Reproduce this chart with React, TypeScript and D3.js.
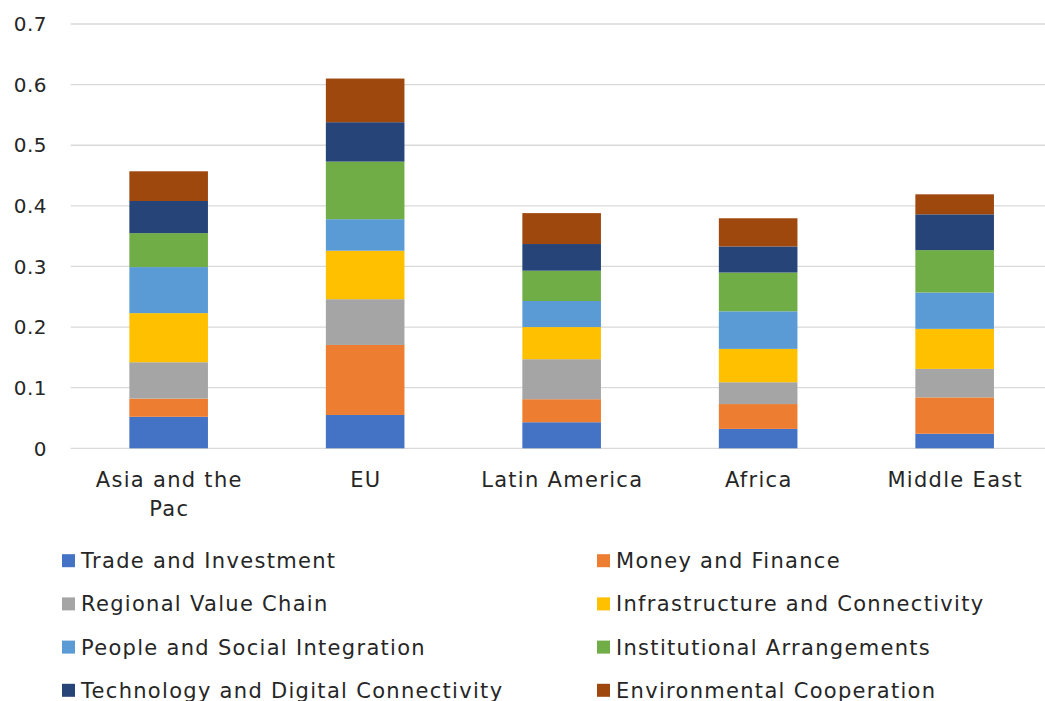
import React from "react";
import * as d3 from "d3";

// regions along the x axis
const categories = ["Asia and the Pac", "EU", "Latin America", "Africa", "Middle East"];

// series values, bottom to top of each stack
const seriesNames = [
  "Trade and Investment",
  "Money and Finance",
  "Regional Value Chain",
  "Infrastructure and Connectivity",
  "People and Social Integration",
  "Institutional Arrangements",
  "Technology and Digital Connectivity",
  "Environmental Cooperation",
];
const tradeInvestment = [0.052, 0.055, 0.043, 0.032, 0.024];
const moneyFinance = [0.03, 0.1155, 0.038, 0.041, 0.06];
const regionalValueChain = [0.06, 0.0755, 0.066, 0.036, 0.047];
const infrastructure = [0.081, 0.08, 0.053, 0.055, 0.066];
const peopleSocial = [0.076, 0.052, 0.043, 0.062, 0.06];
const institutional = [0.056, 0.095, 0.05, 0.064, 0.07];
const technologyDigital = [0.053, 0.065, 0.044, 0.043, 0.059];
const environmental = [0.049, 0.072, 0.051, 0.0465, 0.033];

const yTicks = [0, 0.1, 0.2, 0.3, 0.4, 0.5, 0.6, 0.7];

const colors = ["#4472C4", "#ED7D31", "#A5A5A5", "#FFC000", "#5B9BD5", "#70AD47", "#264478", "#9E480E"];

const width = 1045;
const height = 701;
const font = "'DejaVu Sans', sans-serif";
const textColor = "#262626";

// split long category names into two lines like the original
function wrap(label: string): string[] {
  if (label.length <= 14) return [label];
  const cut = label.lastIndexOf(" ", 13);
  return [label.slice(0, cut), label.slice(cut + 1)];
}

export default function App() {
  const values = [
    tradeInvestment,
    moneyFinance,
    regionalValueChain,
    infrastructure,
    peopleSocial,
    institutional,
    technologyDigital,
    environmental,
  ];

  const rows = categories.map((c, i) => {
    const r: Record<string, number | string> = { category: c };
    seriesNames.forEach((s, j) => (r[s] = values[j][i]));
    return r;
  });

  const stacked = d3.stack<any>().keys(seriesNames)(rows);

  const x = d3
    .scaleBand()
    .domain(categories)
    .range([70.4, 1052.9])
    .paddingInner(0.6)
    .paddingOuter(0.3);

  const y = d3.scaleLinear().domain([0, 0.7]).range([448.3, 24]);

  const legendCol = [62, 597];
  const legendRow0 = 560.7;
  const legendStep = 43.2;

  return (
    <svg
      width={width}
      height={height}
      style={{ position: "absolute", left: 0, top: 0, background: "#fff" }}
      fontFamily={font}
    >
      {/* gridlines */}
      {yTicks.map((t) => (
        <line key={t} x1={70.7} x2={width} y1={y(t)} y2={y(t)} stroke="#D9D9D9" strokeWidth={1.3} />
      ))}
      {/* y tick labels */}
      {yTicks.map((t) => (
        <text
          key={t}
          x={47}
          y={y(t)}
          dy="0.36em"
          textAnchor="end"
          fontSize={20}
          letterSpacing={0.5}
          fill={textColor}
        >
          {d3.format("")(+t.toFixed(1))}
        </text>
      ))}
      {/* stacked bars */}
      {stacked.map((layer, j) => (
        <g key={layer.key} fill={colors[j]}>
          {layer.map((d, i) => (
            <rect
              key={i}
              x={x(categories[i])}
              width={x.bandwidth()}
              y={y(d[1])}
              height={y(d[0]) - y(d[1])}
            />
          ))}
        </g>
      ))}
      {/* category labels */}
      {categories.map((c) => {
        const cx = (x(c) ?? 0) + x.bandwidth() / 2 + 0.6;
        return (
          <text
            key={c}
            x={cx}
            y={487}
            textAnchor="middle"
            fontSize={21}
            letterSpacing={1.3}
            fill={textColor}
          >
            {wrap(c).map((line, k) => (
              <tspan key={k} x={cx} dy={k === 0 ? 0 : 29}>
                {line}
              </tspan>
            ))}
          </text>
        );
      })}
      {/* legend */}
      {seriesNames.map((s, j) => {
        const cx = legendCol[j % 2];
        const cy = legendRow0 + Math.floor(j / 2) * legendStep;
        return (
          <g key={s}>
            <rect x={cx} y={cy - 6.5} width={13} height={13} fill={colors[j]} />
            <text x={cx + 19} y={cy} dy="0.36em" fontSize={21} letterSpacing={1.3} fill={textColor}>
              {s}
            </text>
          </g>
        );
      })}
    </svg>
  );
}
